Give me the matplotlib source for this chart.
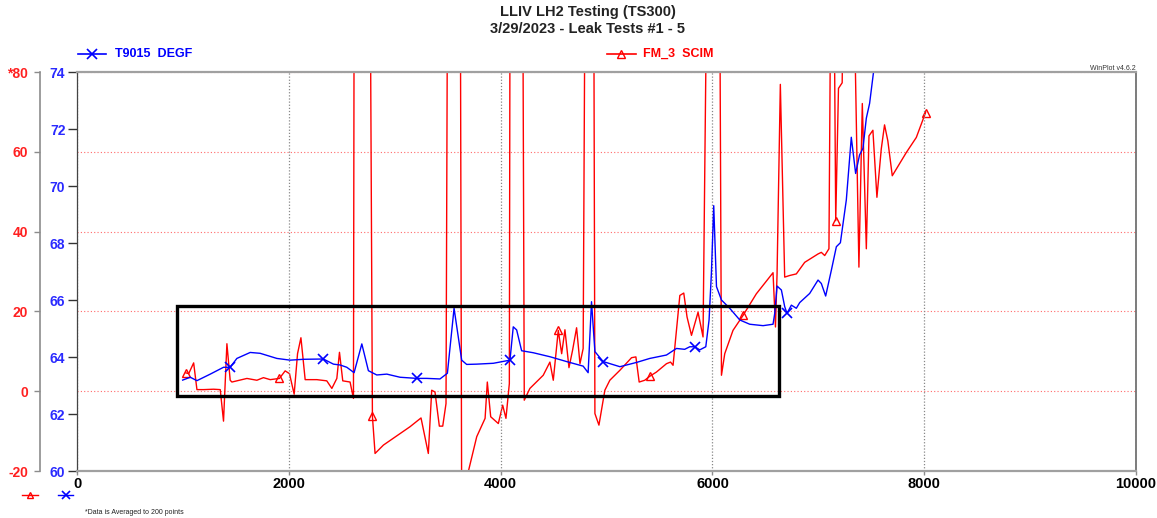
import matplotlib
matplotlib.use('Agg')
import matplotlib.pyplot as plt
from matplotlib.lines import Line2D
from matplotlib.patches import Rectangle

plt.rcParams['font.family'] = ['Liberation Sans', 'DejaVu Sans']

# T9015 temperature (DEGF), left inner axis
t9015_x = [997, 1069, 1132, 1258, 1383, 1446, 1509, 1635, 1729, 1887, 2012, 2138, 2326, 2421,
           2484, 2547, 2616, 2689, 2751, 2830, 2925, 3050, 3208, 3302, 3427, 3497, 3560, 3632,
           3679, 3774, 3931, 4088, 4119, 4151, 4198, 4308, 4465, 4623, 4779, 4826, 4858, 4890,
           4968, 5126, 5283, 5408, 5566, 5660, 5738, 5786, 5833, 5880, 5937, 5968, 5990, 6012,
           6038, 6085, 6163, 6258, 6352, 6478, 6572, 6588, 6610, 6651, 6682, 6704, 6745, 6792,
           6824, 6918, 6997, 7028, 7069, 7123, 7170, 7208, 7264, 7311, 7352, 7389, 7421, 7453,
           7484, 7521, 7560]
t9015_y = [63.19, 63.29, 63.17, 63.40, 63.64, 63.64, 63.95, 64.16, 64.13, 63.95, 63.89, 63.92,
           63.93, 63.75, 63.72, 63.64, 63.45, 64.46, 63.52, 63.37, 63.40, 63.29, 63.25, 63.25,
           63.23, 63.43, 65.71, 63.89, 63.74, 63.75, 63.78, 63.89, 65.06, 64.95, 64.22, 64.15,
           64.01, 63.84, 63.68, 63.45, 65.94, 64.19, 63.84, 63.66, 63.81, 63.95, 64.07, 64.30,
           64.27, 64.36, 64.36, 64.25, 64.36, 65.30, 66.94, 69.31, 66.47, 66.00, 65.71, 65.30,
           65.15, 65.10, 65.15, 65.53, 66.49, 66.35, 65.77, 65.53, 65.82, 65.71, 65.91, 66.23,
           66.70, 66.58, 66.14, 67.05, 67.87, 68.01, 69.51, 71.71, 70.44, 71.09, 71.32, 72.38,
           72.90, 74.00, 74.80]
t9015_marks = [1446, 2326, 3208, 4088, 4968, 5833, 6704]

# FM_3 flow (SCIM), left outer axis
fm3_x = [1028, 1054, 1101, 1132, 1195, 1289, 1352, 1383, 1415, 1446, 1462, 1604, 1698, 1760,
         1824, 1911, 1965, 2006, 2050, 2082, 2114, 2154, 2264, 2358, 2406, 2453, 2478, 2509,
         2578, 2610, 2616, 2770, 2789, 2814, 2893, 3144, 3248, 3317, 3349, 3380, 3421, 3453,
         3484, 3497, 3620, 3632, 3663, 3694, 3774, 3853, 3874, 3906, 3978, 4019, 4050, 4082,
         4088, 4210, 4223, 4276, 4402, 4465, 4497, 4544, 4576, 4607, 4645, 4679, 4717, 4749,
         4779, 4795, 4880, 4890, 4928, 4984, 5031, 5126, 5236, 5277, 5308, 5361, 5408, 5471,
         5566, 5604, 5628, 5692, 5729, 5760, 5802, 5864, 5911, 5943, 6070, 6085, 6116, 6194,
         6289, 6414, 6572, 6595, 6610, 6641, 6660, 6682, 6729, 6792, 6871, 6997, 7028, 7060,
         7100, 7115, 7150, 7164, 7190, 7225, 7232, 7340, 7383, 7415, 7453, 7478, 7515, 7553,
         7594, 7625, 7656, 7698, 7830, 7925, 8012]
fm3_y = [4.6, 4.4, 7.1, 0.4, 0.4, 0.5, 0.4, -7.5, 11.9, 2.75, 2.3, 3.2, 2.75, 3.4,
         2.9, 3.2, 5.1, 4.4, -0.75, 9.4, 13.4, 2.9, 2.9, 2.6, 0.7, 3.2, 9.75, 2.6,
         2.3, -1.8, 95, 95, -6.25, -15.6, -13.5, -8.9, -6.7, -15.6, 0.25, -0.2, -8.75, -8.75,
         -3.1, 95, 95, -30, -30, -20.2, -11.4, -6.8, 2.3, -6.4, -8.1, -3.5, -6.8, 1.9,
         95, 95, -2.25, 0.7, 4.0, 7.3, 2.75, 15.25, 9.4, 15.4, 5.9, 10.25, 15.9, 6.9,
         10.7, 95, 95, -5.6, -8.5, 0.25, 2.75, 5.25, 8.4, 8.6, 2.3, 2.75, 3.75, 4.8,
         6.9, 7.3, 6.5, 24, 24.6, 18.6, 14, 19.8, 13.6, 95, 95, 4.0, 9.4, 15.25,
         19, 24.4, 29.7, 16.1, 29.4, 76.9, 54.4, 28.6, 29, 29.4, 32.3, 34.4, 34.8, 34,
         35.7, 95, 95, 42.75, 75.9, 77.3, 95, 95, 31.1, 72.1, 35.7, 64, 65.4, 48.6,
         60.7, 66.75, 62.75, 54, 59.8, 63.6, 69.8]
fm3_marks = [1028, 1911, 2789, 3663, 4544, 5408, 6289, 7164, 8012]

x_ticks = [0, 2000, 4000, 6000, 8000, 10000]
t_ticks = [60, 62, 64, 66, 68, 70, 72, 74]
f_ticks = [-20, 0, 20, 40, 60, 80]
f_labels = ['-20', '0', '20', '40', '60', '*80']

BLUE = '#0000ff'
RED = '#ff0000'
GRAY = '#8c8c8c'

fig = plt.figure(figsize=(11.57, 5.18), dpi=100)
ax = fig.add_axes([0.0666, 0.0907, 0.9153, 0.7703])
axr = ax.twinx()

# outer red scale sits to the left of the blue one
axr.spines['left'].set_visible(True)
axr.spines['left'].set_position(('outward', 26.6))
axr.spines['left'].set_color(GRAY)
axr.spines['left'].set_linewidth(1.2)
axr.yaxis.set_ticks_position('left')
axr.spines['right'].set_visible(False)
axr.spines['top'].set_visible(False)
axr.spines['bottom'].set_visible(False)

ax.set_zorder(axr.get_zorder() + 1)
ax.patch.set_visible(False)

axr.set_ylim(-20, 80)
axr.set_yticks(f_ticks)
axr.set_yticklabels(f_labels)
axr.tick_params(axis='y', colors=GRAY, length=4.5, width=1.0, pad=4, labelsize=10)
for lbl in axr.get_yticklabels():
    lbl.set_color('#ff2020')
    lbl.set_fontweight('bold')
axr.grid(axis='y', color='#ff6a6a', linestyle=(0, (1, 2)), linewidth=0.8)

ax.set_xlim(0, 10000)
ax.set_ylim(60, 74)
ax.set_xticks(x_ticks)
ax.set_yticks(t_ticks)
ax.tick_params(axis='y', colors='#333333', length=6.5, width=1.0, pad=2, labelsize=10)
for lbl in ax.get_yticklabels():
    lbl.set_color('#2a2aff')
    lbl.set_fontweight('bold')
ax.tick_params(axis='x', colors=GRAY, length=3, width=1.0, pad=1.5, labelsize=10.5)
for lbl in ax.get_xticklabels():
    lbl.set_color('black')
    lbl.set_fontweight('bold')
ax.grid(axis='x', color='#888888', linestyle=(0, (1, 1.5)), linewidth=0.9)

for side in ['top', 'bottom']:
    ax.spines[side].set_color('#a0a0a0')
    ax.spines[side].set_linewidth(1.6)
ax.spines['left'].set_color('#444444')
ax.spines['left'].set_linewidth(0.9)
ax.spines['right'].set_color('#666666')
ax.spines['right'].set_linewidth(1.2)

red_idx = [fm3_x.index(v) for v in fm3_marks]
axr.plot(fm3_x, fm3_y, color=RED, lw=1.0, marker='^', markevery=red_idx,
         markersize=6, markerfacecolor='none', markeredgecolor=RED, markeredgewidth=1.0)

blue_idx = [t9015_x.index(v) for v in t9015_marks]
ax.plot(t9015_x, t9015_y, color=BLUE, lw=1.0, marker='x', markevery=blue_idx,
        markersize=7, markeredgewidth=1.2)

# highlight box around the leak test window
ax.add_patch(Rectangle((943, 62.63), 6625 - 943, 65.8 - 62.63, fill=False,
                       edgecolor='black', linewidth=2.4, zorder=5))

# titles and legend keys
fig.text(0.508, 0.976, 'LLIV LH2 Testing (TS300)', ha='center', va='center',
         fontsize=10.5, fontweight='bold', color='#222222')
fig.text(0.508, 0.944, '3/29/2023 - Leak Tests #1 - 5', ha='center', va='center',
         fontsize=10.5, fontweight='bold', color='#222222')

W, H = 1157.0, 518.0
fig.add_artist(Line2D([78 / W, 106 / W], [1 - 54 / H] * 2, color=BLUE, lw=1.2))
fig.add_artist(Line2D([92 / W], [1 - 54 / H], color=BLUE, marker='x', markersize=7, mew=1.2))
fig.text(115 / W, 1 - 54 / H, 'T9015  DEGF', ha='left', va='center', fontsize=9,
         fontweight='bold', color=BLUE)
fig.add_artist(Line2D([607 / W, 636 / W], [1 - 54 / H] * 2, color=RED, lw=1.2))
fig.add_artist(Line2D([621 / W], [1 - 54 / H], color=RED, marker='^', markersize=6,
                      markerfacecolor='none', mew=1.0))
fig.text(643 / W, 1 - 54 / H, 'FM_3  SCIM', ha='left', va='center', fontsize=9,
         fontweight='bold', color=RED)
fig.text(1113 / W, 1 - 68 / H, 'WinPlot v4.6.2', ha='center', va='center', fontsize=5,
         color='#333333')

fig.add_artist(Line2D([22 / W, 38 / W], [1 - 495 / H] * 2, color=RED, lw=1.0))
fig.add_artist(Line2D([30 / W], [1 - 495 / H], color=RED, marker='^', markersize=5,
                      markerfacecolor='none', mew=1.0))
fig.add_artist(Line2D([58 / W, 73 / W], [1 - 495 / H] * 2, color=BLUE, lw=1.0))
fig.add_artist(Line2D([66 / W], [1 - 495 / H], color=BLUE, marker='x', markersize=6, mew=1.2))
fig.text(85 / W, 1 - 512 / H, '*Data is Averaged to 200 points', ha='left', va='center',
         fontsize=5, color='#222222')

fig.savefig('out.png', dpi=100)
